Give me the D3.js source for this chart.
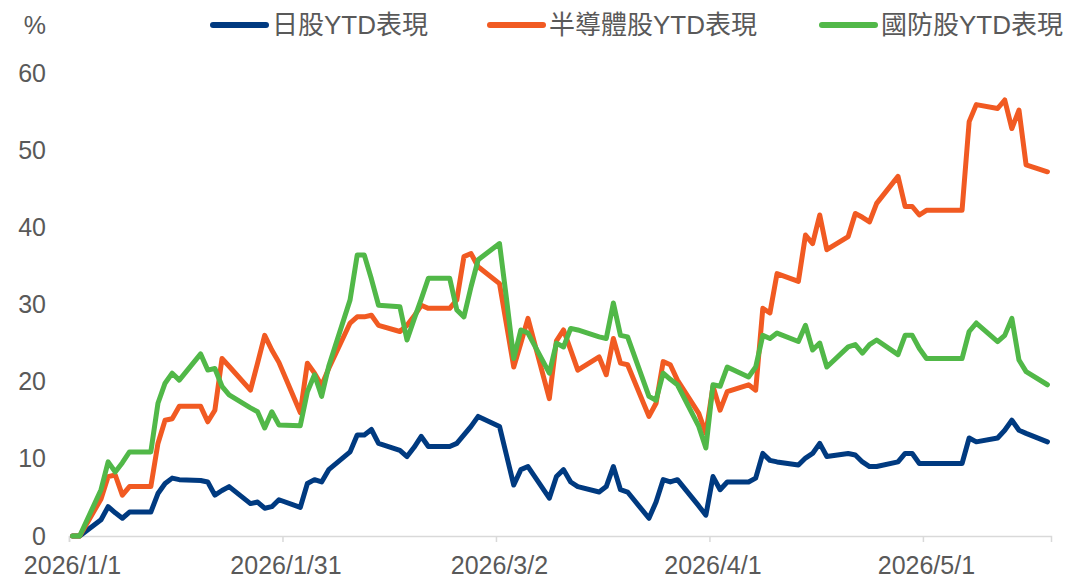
<!DOCTYPE html>
<html>
<head>
<meta charset="utf-8">
<script src="https://cdn.jsdelivr.net/npm/d3@7/dist/d3.min.js"></script>
<style>
  html, body { margin: 0; padding: 0; background: #fff; }
  svg text { font-family: "Liberation Sans", Arial, "Noto Sans CJK TC", sans-serif; fill: #595959; }
</style>
</head>
<body>
<svg id="chart" width="1068" height="580"></svg>
<script>
// ---- data ----
const startDate = "2026-01-01";
const endDate = "2026-05-18";
const seriesNames = ["日股YTD表現", "半導體股YTD表現", "國防股YTD表現"];
const xTickLabels = ["2026/1/1", "2026/1/31", "2026/3/2", "2026/4/1", "2026/5/1"];
const yTicks = [0, 10, 20, 30, 40, 50, 60];

const japan = [
  0,0,2.1,3.8,3.0,2.3,3.1,3.1,5.5,6.8,7.5,7.3,7.2,7.0,5.3,5.9,6.4,4.2,4.4,3.6,3.8,4.7,
  3.7,6.8,7.3,7.0,8.6,10.9,13.1,13.1,13.8,12.0,11.1,10.3,11.5,12.9,11.6,11.6,12.0,13.1,14.2,15.5,
  14.2,10.4,6.6,8.6,9.0,4.9,7.7,8.6,7.0,6.4,5.7,6.4,9.0,6.0,5.7,2.3,4.4,7.3,7.0,7.3,3.9,2.7,
  7.7,6.0,7.0,7.0,7.5,10.7,9.8,9.6,9.2,10.1,10.7,12.0,10.3,10.7,10.5,9.6,9.0,9.0,9.6,10.7,10.7,9.4,
  9.4,9.4,9.4,9.4,12.7,12.2,12.7,13.7,15.0,13.7,13.3,12.2
];
const semis = [
  0,0,4.8,7.7,7.9,5.3,6.4,6.4,12.0,15.0,15.2,16.8,16.8,14.8,16.3,23.0,22.0,18.9,22.4,26.0,24.1,22.5,
  16.0,22.4,21.1,19.5,21.7,27.6,28.4,28.4,28.6,27.3,26.5,27.3,28.5,29.9,29.5,29.5,30.6,36.2,36.6,34.9,
  32.7,27.3,21.9,25.0,28.2,17.8,25.3,26.7,24.1,21.5,23.2,20.9,25.6,22.4,22.2,15.5,17.2,22.6,22.2,20.2,15.9,13.3,
  19.4,16.3,18.7,19.6,18.9,29.5,28.9,34.0,33.0,39.0,37.9,41.6,37.1,38.8,41.8,41.3,40.7,43.1,46.6,42.7,42.7,41.6,
  42.2,42.2,42.2,42.2,53.7,55.9,55.4,56.5,52.8,55.2,48.1,47.2
];
const defense = [
  0,0,6.0,9.6,8.3,9.5,10.9,10.9,17.2,19.8,21.1,20.2,23.6,21.5,21.7,19.4,18.3,16.6,16.1,14.0,16.1,14.4,
  14.3,18.7,20.9,18.1,22.0,30.6,36.4,36.4,33.3,29.9,29.7,25.4,28.1,30.7,33.4,33.4,29.3,28.4,32.3,35.8,
  37.9,30.6,23.0,26.7,26.3,21.1,25.0,24.5,26.9,26.7,25.8,25.6,30.2,26.0,25.8,18.1,17.6,21.1,20.3,19.6,14.2,11.4,
  19.6,19.4,21.9,20.6,21.9,26.0,25.6,26.3,25.2,27.3,24.1,25.0,21.9,24.5,24.8,23.7,24.8,25.4,23.5,26.0,26.0,24.3,
  23.0,23.0,23.0,23.0,26.5,27.6,25.2,26.0,28.2,22.8,21.3,19.6
];
const colors = ["#003A80", "#F15A22", "#51B848"];

// ---- chart ----
const parse = d3.utcParse("%Y-%m-%d");
const parseTick = d3.utcParse("%Y/%m/%d");
const t0 = parse(startDate), t1 = parse(endDate);
const dates = d3.utcDay.range(t0, d3.utcDay.offset(t1, 1)).filter(d => d.getUTCDay() !== 0 && d.getUTCDay() !== 6);

const svg = d3.select("#chart");
const x = d3.scaleUtc().domain([t0, d3.utcDay.offset(t1, 1)]).range([69, 1051]);
const y = d3.scaleLinear().domain([0, 60]).range([536, 73]);
const mid = d => d3.utcHour.offset(d, 12);

// y axis labels
const yAxis = svg.append("g").attr("transform", "translate(46,0)")
  .call(d3.axisLeft(y).tickValues(yTicks).tickSize(0).tickPadding(0));
yAxis.select(".domain").remove();
yAxis.selectAll("text").style("font-size", "25px").attr("fill", "#595959");

svg.append("text").attr("x", 46).attr("y", 34).attr("text-anchor", "end")
  .style("font-size", "25px").text("%");

// x axis
const xAxis = svg.append("g").attr("transform", "translate(0,536)")
  .call(d3.axisBottom(x)
    .tickValues(xTickLabels.map(s => parseTick(s)))
    .tickSize(6)
    .tickFormat((d, i) => xTickLabels[i]));
xAxis.select(".domain").attr("stroke", "#d9d9d9").attr("stroke-width", 1.5);
xAxis.selectAll(".tick line").attr("stroke", "#d9d9d9").attr("stroke-width", 1.5);
xAxis.selectAll(".tick text").style("font-size", "25px").attr("fill", "#595959")
  .attr("dy", 0).attr("y", 38).attr("dx", 3);

// lines
const allSeries = [japan, semis, defense];
const line = d3.line().x((d, i) => x(mid(dates[i]))).y(d => y(d));
allSeries.forEach((vals, k) => {
  svg.append("path")
    .datum(vals)
    .attr("fill", "none")
    .attr("stroke", colors[k])
    .attr("stroke-width", 5)
    .attr("stroke-linejoin", "round")
    .attr("stroke-linecap", "round")
    .attr("d", line);
});

// legend
const legendX = [213, 490, 822];
const lg = svg.append("g");
seriesNames.forEach((name, k) => {
  lg.append("line")
    .attr("x1", legendX[k]).attr("x2", legendX[k] + 53)
    .attr("y1", 25).attr("y2", 25)
    .attr("stroke", colors[k]).attr("stroke-width", 6).attr("stroke-linecap", "round");
  lg.append("text").attr("x", legendX[k] + 59).attr("y", 34)
    .style("font-size", "26px").text(name);
});
</script>
</body>
</html>
